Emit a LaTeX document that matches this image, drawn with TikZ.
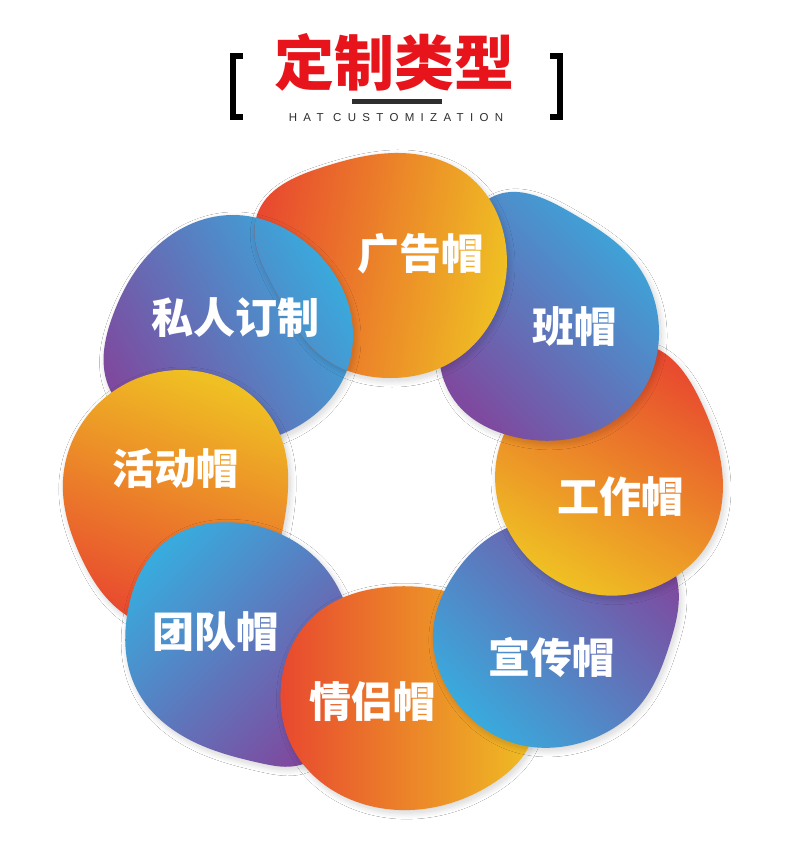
\documentclass[tikz,border=0pt]{standalone}
\usepackage{fontspec}
\newfontfamily\cjk{Noto Sans CJK SC}
\newfontfamily\latinsans{Liberation Sans}[LetterSpace=55]
\usetikzlibrary{shadows.blur,hobby}
\definecolor{ored}{HTML}{E8482F}
\definecolor{oorg}{HTML}{EE8A27}
\definecolor{oyel}{HTML}{EFC023}
\definecolor{blt}{HTML}{39AADD}
\definecolor{bmid}{HTML}{4464B4}
\definecolor{bpur}{HTML}{7E4A9F}
\definecolor{tred}{HTML}{E8141B}
\definecolor{dk}{HTML}{2E2E2E}
\tikzset{
  blobshadow/.style={blur shadow={shadow blur radius=6pt, shadow xshift=2pt, shadow yshift=-3pt, shadow opacity=18, shadow blur steps=20}},
  warm/.style={left color=ored, middle color=oorg, right color=oyel, shading angle=#1},
  cool/.style={left color=blt, middle color=bmid, right color=bpur, shading angle=#1},
  lbl/.style={text=white, font=\cjk\bfseries\fontsize{42}{42}\selectfont, inner sep=0pt},
  brk/.style={line width=6pt, draw=black, line cap=butt, line join=miter}
}
\newcommand\blobA{plot[closed hobby] coordinates {(257,-215) (320,-168) (400,-153) (470,-177) (505,-240) (497,-310) (455,-360) (390,-378) (320,-355) (275,-290)}}
\newcommand\blobB{plot[closed hobby] coordinates {(492,-197) (570,-212) (635,-262) (659,-330) (640,-395) (585,-435) (515,-437) (458,-405) (440,-365) (455,-270)}}
\newcommand\blobC{plot[closed hobby] coordinates {(653,-347) (700,-400) (722,-470) (710,-540) (660,-585) (600,-595) (535,-565) (500,-510) (500,-445) (560,-370)}}
\newcommand\blobD{plot[closed hobby] coordinates {(507,-528) (455,-573) (433,-633) (450,-693) (510,-742) (580,-743) (640,-705) (670,-643) (678,-585) (640,-530) (570,-518)}}
\newcommand\blobE{plot[closed hobby] coordinates {(387,-587) (315,-615) (281,-685) (298,-757) (360,-803) (430,-808) (495,-782) (528,-748) (532,-680) (490,-612) (440,-590)}}
\newcommand\blobF{plot[closed hobby] coordinates {(240,-523) (165,-542) (128,-610) (137,-690) (190,-740) (260,-763) (300,-765) (345,-710) (352,-630) (325,-568)}}
\newcommand\blobG{plot[closed hobby] coordinates {(180,-370) (100,-402) (63,-480) (80,-555) (123,-613) (190,-630) (260,-585) (286,-510) (282,-440) (240,-387)}}
\newcommand\blobH{plot[closed hobby] coordinates {(233,-215) (305,-242) (347,-300) (345,-375) (300,-425) (230,-445) (150,-428) (108,-385) (113,-315) (150,-253)}}
\begin{document}
\begin{tikzpicture}[x=1pt,y=1pt]
\useasboundingbox (0,0) rectangle (790,-857);
\fill[white] (0,0) rectangle (790,-857);
% title
\node[text=tred, font=\cjk\bfseries\fontsize{60}{60}\selectfont, inner sep=0pt] (title) at (394,-62) {定制类型};
\fill[dk] (352,-99) rectangle (442,-104);
\node[text=dk, font=\latinsans\fontsize{11.5}{11.5}\selectfont, inner sep=0pt] (subtitle) at (396,-118) {HAT CUSTOMIZATION};
\draw[brk] (243,-56) -- (233,-56) -- (233,-117) -- (243,-117);
\draw[brk] (550,-56) -- (560,-56) -- (560,-117) -- (550,-117);
% blobs, bottom to top
\path[blobshadow, cool=-60] \blobH;
\path[blobshadow, warm=160] \blobG;
\path[blobshadow, cool=45] \blobF;
\path[blobshadow, warm=90] \blobE;
\path[blobshadow, cool=135] \blobD;
\path[blobshadow, warm=-30] \blobC;
\path[blobshadow, cool=-45] \blobB;
\path[blobshadow, warm=80] \blobA;
\begin{scope}
  \clip \blobA;
  \path[blobshadow, cool=-60] \blobH;
\end{scope}
% labels
\node[lbl] (lA) at (420,-254) {广告帽};
\node[lbl] (lB) at (574,-327) {班帽};
\node[lbl] (lC) at (620,-497) {工作帽};
\node[lbl] (lD) at (551,-657) {宣传帽};
\node[lbl] (lE) at (372,-702) {情侣帽};
\node[lbl] (lF) at (215,-632) {团队帽};
\node[lbl] (lG) at (175,-468) {活动帽};
\node[lbl] (lH) at (235,-318) {私人订制};
\end{tikzpicture}
\end{document}
